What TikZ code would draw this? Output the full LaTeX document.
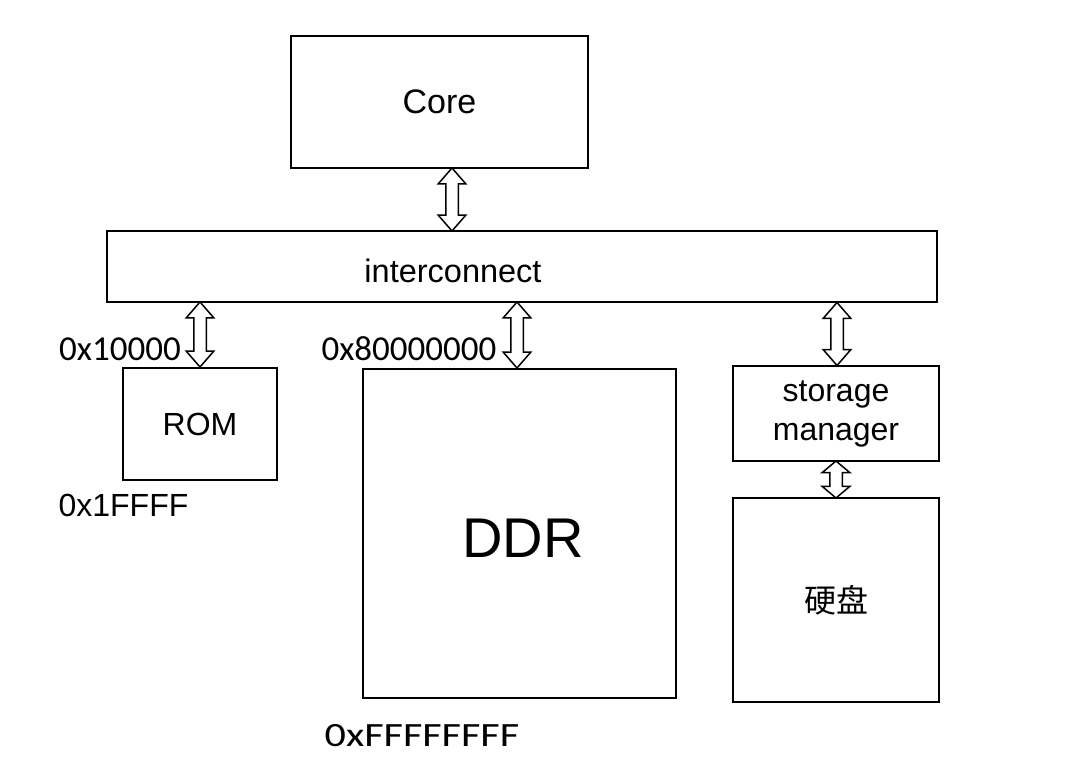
\documentclass[tikz,border=0pt]{standalone}
\usepackage{fontspec}
\setmainfont{Liberation Sans}
\newfontfamily\hexfont{Carlito}
\newfontfamily\cjk{Noto Sans CJK SC}
\usetikzlibrary{shapes.arrows,calc}
\begin{document}
\begin{tikzpicture}[x=1pt,y=-1pt,
  box/.style={draw,line width=1.7pt,inner sep=0pt,align=center,font=\fontsize{32}{38}\selectfont},
  txt/.style={inner sep=0pt,align=center,font=\fontsize{32.5}{38}\selectfont},
  hex/.style={inner sep=0pt,font=\hexfont\fontsize{35}{40}\selectfont},
  dar/.style={double arrow,draw,fill=white,line width=1.5pt,inner sep=5.5pt,
    double arrow head extend=7.5pt,double arrow tip angle=82,
    shape border rotate=90,minimum height=#1}]
\useasboundingbox[fill=white] (0,0) rectangle (1072,784);
\node[box,minimum width=297pt,minimum height=132pt,font=\fontsize{34}{40}\selectfont] (core) at (439.5,102) {Core};
\node[box,minimum width=830pt,minimum height=71pt] (ic) at (522,266.5) {};
\node[txt] (ictext) at (453,271) {interconnect};
\node[box,minimum width=154pt,minimum height=112pt] (rom) at (200,424) {ROM};
\node[box,minimum width=313pt,minimum height=329pt] (ddr) at (519.5,533.5) {};
\node[inner sep=0pt,font=\fontsize{56}{60}\selectfont] (ddrtext) at (523,538) {DDR};
\node[box,minimum width=206pt,minimum height=95pt] (sm) at (836,413.5) {storage\\[1pt]manager};
\node[box,minimum width=206pt,minimum height=204pt] (disk) at (836,600) {\cjk 硬盘};
\node[hex] (l1) at (120,349) {0x10000};
\node[inner sep=0pt,font=\fontsize{32}{38}\selectfont] (l2) at (123.5,505) {0x1FFFF};
\node[hex] (l3) at (409,349) {0x80000000};
\node[inner sep=0pt,font=\hexfont\fontsize{34}{40}\selectfont] (l4) at (422,736) {\scalebox{1.24}[1]{0xFFFFFFFF}};
\node[dar=63pt] (a1) at (452,199.5) {};
\node[dar=65pt] (a2) at (200,334.5) {};
\node[dar=66pt] (a3) at (517,335) {};
\node[dar=63pt] (a4) at (837,334) {};
\node[dar=37pt,double arrow tip angle=100] (a5) at (836,479.5) {};
\end{tikzpicture}
\end{document}
